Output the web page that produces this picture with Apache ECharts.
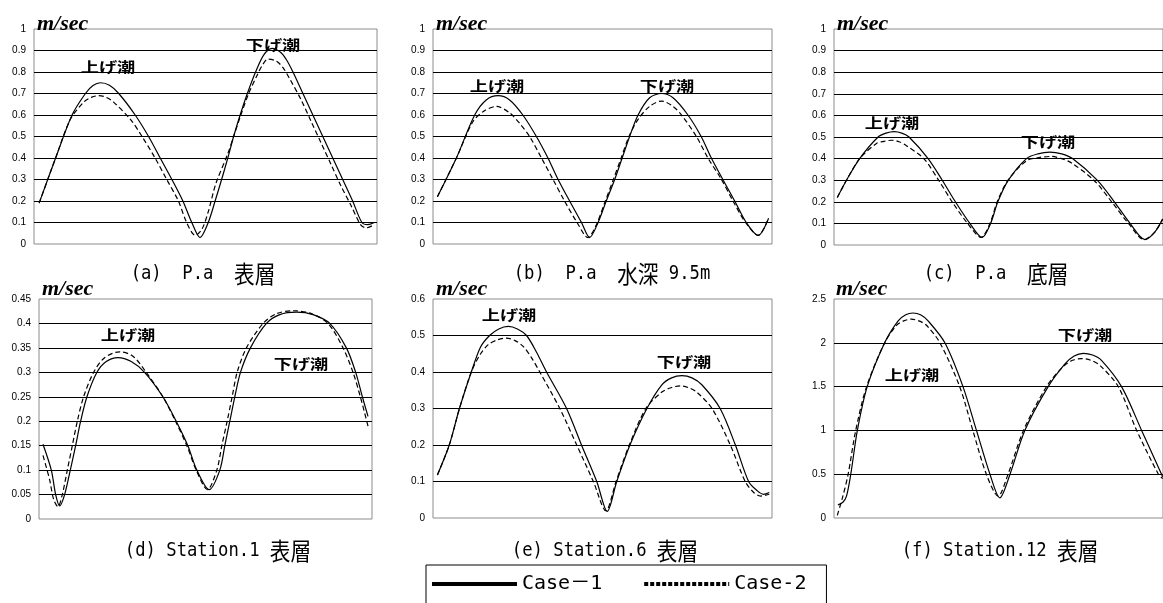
<!DOCTYPE html>
<html>
<head>
<meta charset="utf-8">
<script src="https://cdn.jsdelivr.net/npm/echarts@6/dist/echarts.min.js"></script>
<style>
html, body { margin: 0; background: #fff; }
#main { width: 1163px; height: 603px; }
</style>
</head>
<body>
<div id="main"></div>
<script>
// 横軸: 時刻（プロット幅を 0-100 とした相対値）, 縦軸: 流速 m/sec
// (a) P.a 表層
var paSurf1 = [[1.5,0.19],[6.3,0.40],[11.1,0.60],[15.0,0.70],[17.2,0.737],[19.4,0.75],[22.0,0.738],[24.7,0.70],[29.5,0.60],[33.4,0.50],[36.8,0.40],[40.2,0.30],[43.4,0.20],[46.0,0.10],[48.4,0.03],[50.8,0.10],[52.8,0.20],[54.7,0.30],[56.5,0.40],[58.2,0.50],[60.1,0.60],[62.2,0.70],[64.6,0.80],[67.0,0.88],[69.4,0.91],[71.8,0.893],[73.6,0.857],[75.5,0.80],[78.4,0.70],[81.3,0.60],[84.2,0.50],[87.1,0.40],[90.0,0.30],[92.9,0.20],[95.6,0.10],[97.3,0.09],[99.2,0.10]];
var paSurf2 = [[1.5,0.19],[6.3,0.40],[10.6,0.58],[14.5,0.66],[16.7,0.682],[18.9,0.69],[21.1,0.682],[23.2,0.66],[28.1,0.58],[31.5,0.50],[35.3,0.40],[38.7,0.30],[42.1,0.20],[44.5,0.10],[47.0,0.04],[49.0,0.07],[50.8,0.15],[53.0,0.28],[56.5,0.42],[58.2,0.50],[60.3,0.60],[62.6,0.70],[65.2,0.79],[66.7,0.835],[68.2,0.86],[70.7,0.85],[72.6,0.82],[74.5,0.77],[77.9,0.67],[80.8,0.57],[83.7,0.47],[86.6,0.37],[89.5,0.27],[92.4,0.18],[95.2,0.09],[96.8,0.075],[99.2,0.09]];
// (b) P.a 水深9.5m
var paMid1 = [[1.3,0.22],[6.9,0.40],[12.3,0.60],[15.7,0.67],[19.2,0.69],[22.6,0.67],[26.5,0.60],[30.5,0.50],[33.9,0.40],[36.9,0.30],[40.3,0.20],[43.8,0.10],[46.2,0.03],[48.7,0.10],[51.1,0.20],[53.6,0.30],[55.8,0.40],[58.0,0.50],[60.5,0.60],[63.9,0.68],[67.4,0.70],[70.8,0.68],[75.2,0.60],[79.1,0.50],[82.1,0.40],[85.5,0.30],[89.0,0.20],[92.4,0.10],[95.9,0.04],[99.0,0.12]];
var paMid2 = [[1.3,0.22],[6.9,0.40],[11.8,0.57],[15.2,0.62],[18.7,0.64],[22.6,0.61],[25.6,0.56],[28.5,0.50],[32.0,0.40],[35.4,0.30],[38.8,0.20],[42.5,0.10],[45.7,0.03],[48.2,0.09],[50.6,0.19],[53.2,0.30],[55.5,0.40],[57.8,0.50],[60.5,0.58],[63.9,0.64],[67.4,0.665],[70.8,0.64],[73.3,0.60],[77.7,0.50],[81.1,0.40],[85.1,0.30],[88.5,0.20],[92.2,0.10],[95.9,0.04],[99.0,0.12]];
// (c) P.a 底層
var paBot1 = [[1.0,0.22],[3.8,0.30],[7.8,0.40],[13.4,0.50],[15.8,0.518],[18.3,0.525],[20.6,0.518],[22.8,0.50],[28.6,0.40],[32.9,0.30],[36.9,0.20],[41.3,0.10],[45.0,0.035],[47.6,0.10],[49.8,0.20],[53.0,0.30],[58.5,0.40],[62.0,0.422],[65.6,0.43],[69.2,0.422],[72.5,0.40],[80.0,0.30],[85.2,0.20],[90.0,0.10],[94.5,0.025],[97.5,0.06],[99.9,0.12]];
var paBot2 = [[1.0,0.22],[3.8,0.30],[7.8,0.40],[12.9,0.47],[15.2,0.48],[17.6,0.485],[19.8,0.478],[22.0,0.46],[27.3,0.40],[31.8,0.30],[35.9,0.20],[40.6,0.10],[44.7,0.035],[47.4,0.10],[49.6,0.20],[52.9,0.30],[58.5,0.39],[62.3,0.405],[66.1,0.41],[69.2,0.40],[72.2,0.38],[79.0,0.30],[84.4,0.20],[89.5,0.10],[94.3,0.025],[97.5,0.06],[99.9,0.12]];
// (d) Station.1 表層
var st1Case1 = [[1.2,0.153],[3.7,0.10],[5.0,0.05],[6.2,0.027],[7.7,0.05],[9.4,0.10],[11.0,0.15],[12.5,0.20],[14.4,0.25],[17.4,0.30],[20.2,0.322],[23.7,0.33],[27.7,0.322],[31.7,0.30],[37.2,0.25],[41.2,0.20],[44.7,0.15],[47.4,0.10],[51.1,0.06],[54.3,0.10],[55.8,0.15],[57.3,0.20],[58.8,0.25],[60.5,0.30],[63.5,0.35],[68.3,0.40],[72.3,0.418],[77.3,0.423],[82.3,0.418],[87.3,0.40],[92.3,0.35],[95.1,0.30],[97.1,0.25],[98.8,0.21]];
var st1Case2 = [[1.2,0.13],[3.2,0.08],[4.4,0.04],[5.7,0.025],[7.0,0.05],[8.5,0.10],[10.0,0.15],[11.5,0.20],[13.4,0.25],[16.4,0.30],[19.7,0.33],[24.2,0.342],[28.2,0.333],[32.2,0.30],[37.2,0.25],[41.0,0.20],[44.4,0.15],[47.2,0.10],[50.6,0.06],[53.4,0.10],[54.9,0.15],[56.5,0.20],[58.0,0.25],[59.5,0.30],[62.3,0.35],[67.3,0.40],[71.3,0.42],[76.3,0.426],[81.8,0.42],[86.8,0.40],[91.3,0.35],[94.3,0.30],[96.5,0.25],[98.8,0.19]];
// (e) Station.6 表層
var st6Case1 = [[1.3,0.118],[4.8,0.20],[7.8,0.30],[11.3,0.40],[14.0,0.468],[16.7,0.50],[19.4,0.518],[22.2,0.525],[24.9,0.518],[27.6,0.50],[30.5,0.455],[33.5,0.40],[39.4,0.30],[43.8,0.20],[48.3,0.10],[51.4,0.018],[54.2,0.10],[58.1,0.20],[63.1,0.30],[67.5,0.365],[70.4,0.384],[73.4,0.39],[76.4,0.384],[79.3,0.365],[84.7,0.30],[89.2,0.20],[93.1,0.10],[95.6,0.075],[97.5,0.065],[99.2,0.07]];
var st6Case2 = [[1.3,0.118],[4.8,0.20],[7.8,0.30],[11.3,0.40],[13.9,0.448],[16.3,0.475],[19.0,0.488],[21.7,0.493],[24.2,0.486],[26.6,0.47],[29.0,0.44],[31.5,0.40],[37.4,0.30],[42.4,0.20],[47.3,0.10],[51.0,0.02],[54.0,0.10],[57.9,0.20],[62.8,0.30],[67.5,0.345],[70.2,0.357],[72.9,0.362],[75.4,0.357],[77.8,0.345],[82.3,0.30],[87.7,0.20],[92.1,0.10],[94.6,0.07],[96.6,0.06],[99.2,0.065]];
// (f) Station.12 表層
var st12Case1 = [[1.2,0.15],[2.7,0.18],[3.8,0.25],[5.1,0.50],[7.1,1.00],[10.1,1.50],[15.4,2.00],[19.5,2.25],[21.8,2.32],[24.0,2.34],[26.3,2.32],[28.6,2.25],[33.7,2.00],[39.2,1.50],[43.3,1.00],[47.4,0.50],[50.4,0.23],[53.5,0.50],[58.0,1.00],[65.1,1.50],[70.2,1.76],[73.0,1.85],[75.8,1.88],[78.6,1.86],[81.3,1.80],[87.4,1.50],[93.5,1.00],[99.9,0.47]];
var st12Case2 = [[1.0,0.03],[2.7,0.25],[4.3,0.50],[6.6,1.00],[9.9,1.50],[15.4,2.00],[19.0,2.20],[21.2,2.25],[23.5,2.27],[25.8,2.25],[28.1,2.20],[32.2,2.00],[38.2,1.50],[42.2,1.00],[46.3,0.50],[49.9,0.25],[52.9,0.50],[57.6,1.00],[64.6,1.50],[69.7,1.73],[72.5,1.80],[75.3,1.82],[78.1,1.80],[80.9,1.74],[86.4,1.50],[92.0,1.00],[98.6,0.50],[99.9,0.45]];

var case1 = [paSurf1, paMid1, paBot1, st1Case1, st6Case1, st12Case1];
var case2 = [paSurf2, paMid2, paBot2, st1Case2, st6Case2, st12Case2];
var yMax = [1, 1, 1, 0.45, 0.6, 2.5];
var yStep = [0.1, 0.1, 0.1, 0.05, 0.1, 0.5];
var captions = ['(a)　P.a　表層', '(b)　P.a　水深 9.5m', '(c)　P.a　底層',
                '(d) Station.1 表層', '(e) Station.6 表層', '(f) Station.12 表層'];
var seriesNames = ['Case－1', 'Case-2'];

// レイアウト（ピクセル）
var grids = [
    {left: 34, top: 29, width: 343, height: 215},
    {left: 433, top: 29, width: 339, height: 215},
    {left: 834, top: 29, width: 330, height: 216},
    {left: 39, top: 299, width: 333, height: 220},
    {left: 433, top: 299, width: 339, height: 219},
    {left: 834, top: 299, width: 330, height: 219}
];
var captionPos = [[203, 274], [612, 274], [996, 274], [218, 551], [605, 551], [1000, 551]];
var unitPos = [[37, 24], [436, 24], [837, 24], [42, 289], [436, 289], [836, 289]];
// 上げ潮 / 下げ潮 の位置
var risePos = [[108, 67], [497, 86], [892, 123], [128, 335], [509, 315], [912, 375]];
var fallPos = [[273, 45], [667, 86], [1048, 142], [301, 364], [684, 362], [1085, 335]];

var myChart = echarts.init(document.getElementById('main'));

var gridList = [], xAxes = [], yAxes = [], series = [], graphics = [];

// 全角文字だけ別フォントにする
function toRich(s) {
    return s.replace(/([\u3000-\u9fff\uff00-\uffef]+)/g, '{c|$1}');
}

for (var i = 0; i < 6; i++) {
    var g = grids[i];
    gridList.push({
        left: g.left, top: g.top, width: g.width, height: g.height,
        show: true, borderColor: '#8c8c8c', borderWidth: 1, backgroundColor: 'transparent'
    });
    xAxes.push({
        type: 'value', gridIndex: i, min: 0, max: 100,
        axisLine: {show: false}, axisTick: {show: false}, axisLabel: {show: false},
        splitLine: {show: false}
    });
    yAxes.push({
        type: 'value', gridIndex: i, min: 0, max: yMax[i], interval: yStep[i],
        axisLine: {show: false}, axisTick: {show: false},
        axisLabel: {color: '#000', fontSize: 10, fontFamily: 'Arial, "Liberation Sans"', margin: 8},
        splitLine: {show: true, showMinLine: false, showMaxLine: false, lineStyle: {color: '#000', width: 1}}
    });
    series.push({
        name: seriesNames[0], type: 'line', xAxisIndex: i, yAxisIndex: i,
        data: case1[i], smooth: 0.3, symbol: 'none',
        itemStyle: {color: '#000'},
        lineStyle: {color: '#000', width: 1.2, type: 'solid'}
    });
    series.push({
        name: seriesNames[1], type: 'line', xAxisIndex: i, yAxisIndex: i,
        data: case2[i], smooth: 0.3, symbol: 'none',
        itemStyle: {color: '#000'},
        lineStyle: {color: '#000', width: 1.2, type: [5, 3]}
    });

    // キャプション
    graphics.push({
        type: 'text', x: captionPos[i][0], y: captionPos[i][1], scaleX: 0.86,
        style: {
            text: toRich(captions[i]), fill: '#000',
            fontFamily: '"DejaVu Sans Mono"', fontSize: 20,
            align: 'center', verticalAlign: 'middle',
            rich: {c: {fontFamily: '"Noto Sans CJK JP"', fontSize: 24, fill: '#000'}}
        }
    });
    // 単位
    graphics.push({
        type: 'text', x: unitPos[i][0], y: unitPos[i][1], z: 10,
        style: {
            text: 'm/sec', fill: '#000',
            font: 'italic bold 22px "Liberation Serif", "Times New Roman", serif',
            align: 'left', verticalAlign: 'middle'
        }
    });
    graphics.push({
        type: 'text', x: risePos[i][0], y: risePos[i][1], scaleX: 1.3, z: 10,
        style: {
            text: '上げ潮', fill: '#000',
            font: 'bold 14px "Noto Sans CJK JP"',
            align: 'center', verticalAlign: 'middle'
        }
    });
    graphics.push({
        type: 'text', x: fallPos[i][0], y: fallPos[i][1], scaleX: 1.3, z: 10,
        style: {
            text: '下げ潮', fill: '#000',
            font: 'bold 14px "Noto Sans CJK JP"',
            align: 'center', verticalAlign: 'middle'
        }
    });
}

var noSymbol = {opacity: 0, color: 'transparent', borderColor: 'transparent'};

var option = {
    animation: false,
    backgroundColor: '#fff',
    grid: gridList,
    xAxis: xAxes,
    yAxis: yAxes,
    legend: {
        left: 426, top: 565,
        padding: [9, 20, 12, 4],
        borderColor: '#000', borderWidth: 1,
        itemWidth: 85, itemHeight: 14, itemGap: 40,
        selectedMode: false,
        itemStyle: noSymbol,
        textStyle: {color: '#000', fontSize: 20, fontFamily: '"DejaVu Sans Mono", "Noto Sans CJK JP"'},
        data: [
            {name: seriesNames[0], itemStyle: noSymbol, lineStyle: {width: 4, type: 'solid'}},
            {name: seriesNames[1], itemStyle: noSymbol, lineStyle: {width: 4, type: [4, 2]}}
        ]
    },
    graphic: graphics,
    series: series
};

myChart.setOption(option, true);
</script>
</body>
</html>
